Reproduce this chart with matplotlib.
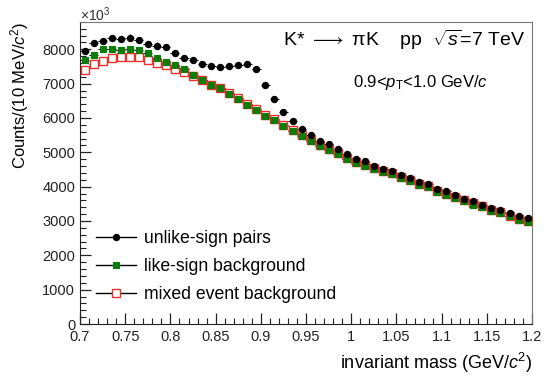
import matplotlib
matplotlib.use("Agg")
import matplotlib.pyplot as plt
import numpy as np
from matplotlib.ticker import MultipleLocator

# bin centres, 10 MeV bins from 0.7 to 1.2 GeV/c^2
mass = np.round(np.arange(0.705, 1.2, 0.01), 3)
bin_half = 0.005

unlike_sign = [
    7950, 8180, 8250, 8320, 8300, 8340, 8280, 8160, 8110, 8060,
    7880, 7740, 7700, 7580, 7520, 7480, 7500, 7550, 7580, 7420,
    6960, 6550, 6180, 5900, 5690, 5510, 5340, 5250, 5095, 4960,
    4805, 4735, 4590, 4515, 4455, 4350, 4260, 4140, 4070, 3930,
    3875, 3760, 3640, 3575, 3480, 3370, 3310, 3235, 3150, 3090,
]
like_sign = [
    7700, 7840, 8000, 8020, 7990, 8000, 7970, 7880, 7760, 7640,
    7530, 7420, 7250, 7110, 6970, 6880, 6710, 6550, 6380, 6230,
    6070, 5930, 5780, 5630, 5470, 5320, 5170, 5055, 4960, 4820,
    4700, 4610, 4500, 4430, 4370, 4250, 4160, 4040, 3990, 3840,
    3760, 3660, 3575, 3480, 3410, 3295, 3235, 3135, 3040, 2975,
]
mixed_event = [
    7400, 7570, 7670, 7740, 7770, 7770, 7770, 7680, 7600, 7530,
    7430, 7350, 7220, 7100, 6970, 6870, 6740, 6580, 6410, 6260,
    6100, 5960, 5810, 5660, 5500, 5360, 5210, 5090, 4990, 4840,
    4730, 4640, 4530, 4460, 4400, 4290, 4200, 4090, 4020, 3870,
    3790, 3690, 3610, 3510, 3440, 3330, 3260, 3160, 3070, 3000,
]

series = [
    ("mixed event background", mixed_event, dict(marker="s", ms=5.5, mfc="white",
                                                  mec="#e8302c", mew=1.0)),
    ("like-sign background", like_sign, dict(marker="s", ms=5.0, mfc="#0a7d0a",
                                              mec="#0a7d0a", mew=0.8)),
    ("unlike-sign pairs", unlike_sign, dict(marker="o", ms=4.5, mfc="black",
                                            mec="black", mew=0.8)),
]

plt.rcParams["font.family"] = ["Liberation Sans", "DejaVu Sans"]
plt.rcParams["mathtext.fontset"] = "custom"
plt.rcParams["mathtext.rm"] = "Liberation Sans"
plt.rcParams["mathtext.it"] = "Liberation Sans:italic"

fig = plt.figure(figsize=(5.5, 3.83), dpi=100)
ax = fig.add_axes([0.1455, 0.154, 0.822, 0.789])

handles = {}
for label, vals, style in series:
    vals = np.asarray(vals, dtype=float)
    ax.errorbar(mass, vals, xerr=bin_half, yerr=np.sqrt(vals),
                fmt="none", ecolor="black", elinewidth=0.8, capsize=0, zorder=2)
    p, = ax.plot(mass, vals, linestyle="none", zorder=3, **style)
    handles[label] = p

ax.set_xlim(0.7, 1.2)
ax.set_ylim(0, 8800)
ax.xaxis.set_minor_locator(MultipleLocator(0.01))
ax.yaxis.set_major_locator(MultipleLocator(1000))
ax.yaxis.set_minor_locator(MultipleLocator(200))
ax.set_xticks(np.arange(0.7, 1.2001, 0.05))
ax.set_xticklabels(["0.7", "0.75", "0.8", "0.85", "0.9", "0.95", "1",
                    "1.05", "1.1", "1.15", "1.2"])
ax.tick_params(which="both", direction="in", top=False, right=False,
               labelsize=10.5, colors="#222222")
ax.tick_params(which="major", length=8, width=0.9)
ax.tick_params(which="minor", length=4, width=0.8)
ax.tick_params(axis="x", pad=4)
for side in ("top", "right"):
    ax.spines[side].set_color("#777777")
for side in ("left", "bottom"):
    ax.spines[side].set_color("#222222")

ax.set_xlabel("invariant mass (GeV/$c^{2}$)", fontsize=13, loc="right", labelpad=5)
ax.set_ylabel("Counts/(10 MeV/$c^{2}$)", fontsize=12, loc="top", labelpad=8)
fig.text(0.146, 0.945, r"$\times10^{3}$", fontsize=10, color="#333333")

ax.text(0.984, 0.94, "K* $\\longrightarrow$ \u03c0K    pp  $\\sqrt{s}$=7 TeV",
        transform=ax.transAxes, ha="right", va="center", fontsize=14)
ax.text(0.903, 0.798, r"0.9<$p_{\mathrm{T}}$<1.0 GeV/$c$",
        transform=ax.transAxes, ha="right", va="center", fontsize=12)

order = ["unlike-sign pairs", "like-sign background", "mixed event background"]
ax.legend([handles[k] for k in order], order, loc="lower left",
          bbox_to_anchor=(0.0, 0.017), frameon=False, fontsize=12.7,
          handlelength=2.3, handletextpad=0.45, labelspacing=0.62)
for line in ax.get_legend().get_lines():
    line.set_linestyle("-")
    line.set_color("black")
    line.set_linewidth(1.0)

fig.savefig("out.png", dpi=100)
